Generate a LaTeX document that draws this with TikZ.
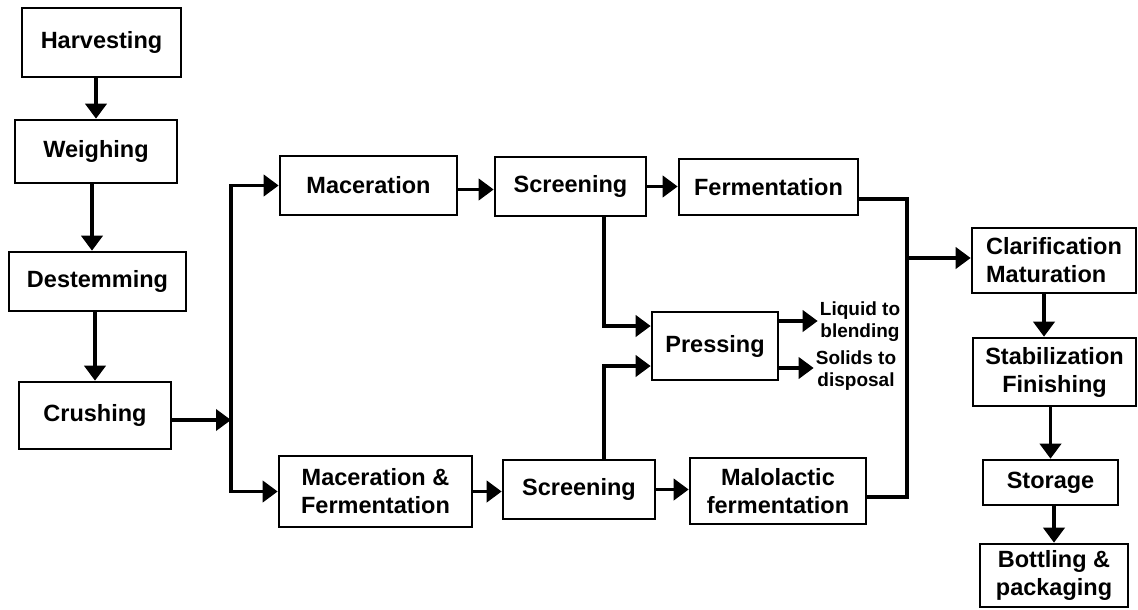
\documentclass[tikz,border=0pt]{standalone}
\usepackage{fontspec}
\setmainfont{Liberation Sans}
\usetikzlibrary{arrows.meta}
\begin{document}
\begin{tikzpicture}[x=1pt,y=-1pt,
  box/.style={draw, line width=2.6pt, rectangle, inner sep=0pt,
    font=\fontsize{23.5}{28}\selectfont\bfseries, align=center},
  lbl/.style={inner sep=2pt, font=\fontsize{19}{22}\selectfont\bfseries, align=center},
  conn/.style={line width=3.8pt, line join=miter},
  arr/.style={conn, -{Triangle[length=15pt,width=21pt]}}]
\useasboundingbox (0,0) rectangle (1138,610);

% left column
\node[box, minimum width=159pt, minimum height=69pt] (harv) at (101.5,42.5) {Harvesting};
\node[box, minimum width=162pt, minimum height=63pt] (weigh) at (96,151.5) {Weighing};
\node[box, minimum width=177pt, minimum height=59pt] (dest) at (97.5,281.5) {Destemming};
\node[box, minimum width=152pt, minimum height=67pt] (crush) at (95,415.5) {Crushing};

% upper line
\node[box, minimum width=177pt, minimum height=59pt] (mac) at (368.5,185.5) {Maceration};
\node[box, minimum width=151pt, minimum height=59pt] (scrA) at (570.5,186.5) {Screening};
\node[box, minimum width=179pt, minimum height=56pt] (ferm) at (768.5,187) {Fermentation};

% pressing and its outputs
\node[box, minimum width=126pt, minimum height=68pt] (press) at (715,346) {Pressing};
\node[lbl] (liq) at (860,322) {Liquid to\\blending};
\node[lbl] (sol) at (856,371) {Solids to\\disposal};

% lower line
\node[box, minimum width=193pt, minimum height=71pt] (mf) at (375.5,491.5) {Maceration \&\\Fermentation};
\node[box, minimum width=152pt, minimum height=59pt] (scrB) at (579,489.5) {Screening};
\node[box, minimum width=176pt, minimum height=66pt] (malo) at (778,491) {Malolactic\\fermentation};

% right column
\node[box, minimum width=164pt, minimum height=65pt, align=left] (clar) at (1054,260.5) {Clarification\\Maturation};
\node[box, minimum width=163pt, minimum height=68pt] (stab) at (1054.5,372) {Stabilization\\Finishing};
\node[box, minimum width=135pt, minimum height=45pt] (stor) at (1050.5,482.5) {Storage};
\node[box, minimum width=148pt, minimum height=63pt] (bott) at (1054,575.5) {Bottling \&\\packaging};

% junction points
\coordinate (jL) at (231,420);
\coordinate (jR) at (907,258);
\coordinate (vx) at ([xshift=33.5pt]scrA.south);

% left column flow
\draw[arr] (harv.south -| weigh.north) -- (weigh.north);
\draw[arr] ([xshift=-4pt]weigh.south) -- ([xshift=-4pt]weigh.south |- dest.north);
\draw[arr] (dest.south -| crush.north) -- (crush.north);
\draw[arr] ([yshift=-4.5pt]crush.east) -- ([yshift=-4.5pt]crush.east -| jL);

% split into the two lines
\draw[arr] (jL) |- (mac.west);
\draw[arr] (jL) |- (mf.west);

% upper line flow
\draw[arr] ([yshift=-4pt]mac.east) -- ([yshift=-4pt]mac.east -| scrA.west);
\draw[arr] (scrA.east) -- (scrA.east -| ferm.west);

% lower line flow
\draw[arr] (mf.east) -- (mf.east -| scrB.west);
\draw[arr] (scrB.east) -- (scrB.east -| malo.west);

% to pressing
\draw[arr] (vx) |- ([yshift=20pt]press.west);
\draw[arr] (vx |- scrB.north) |- ([yshift=-20pt]press.west);
\draw[arr] ([yshift=25pt]press.east) -- ([yshift=25pt]press.east -| liq.west);
\draw[arr] ([yshift=-22pt]press.east) -- ([yshift=-22pt]press.east -| sol.west);

% merge to clarification
\draw[conn] ([yshift=-12pt]ferm.east) -| (jR) |- ([yshift=-6pt]malo.east);
\draw[arr] (jR) -- (jR -| clar.west);

% right column flow
\draw[arr] ([xshift=-10pt]clar.south) -- ([xshift=-10pt]clar.south |- stab.north);
\draw[arr] (stab.south -| stor.north) -- (stor.north);
\draw[arr] (stor.south -| bott.north) -- (bott.north);
\end{tikzpicture}
\end{document}
